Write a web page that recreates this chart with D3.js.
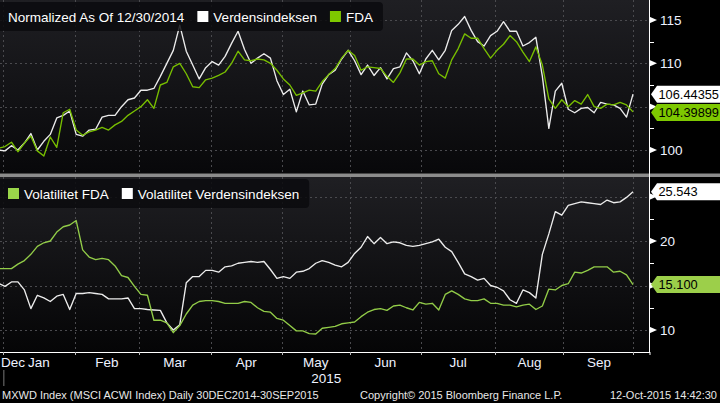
<!DOCTYPE html>
<html><head><meta charset="utf-8">
<script src="https://cdn.jsdelivr.net/npm/d3@7"></script>
<style>
html,body{margin:0;padding:0;background:#000;}
svg{display:block;font-family:"Liberation Sans",Arial,sans-serif;}
</style></head><body>
<svg id="c" width="720" height="403"></svg>
<script>
// ---------- data ----------
const startDate = "2014-12-30", endDate = "2015-09-30"; // daily (weekdays); samples every 2nd weekday
const monthLabels = ["Dec","Jan","Feb","Mar","Apr","May","Jun","Jul","Aug","Sep"];
const yearLabel = "2015";
const priceTicks = [100,105,110,115];
const priceMinor = [102.5,107.5,112.5];
const volTicks = [10,15,20,25];
const volMinor = [12.5,17.5,22.5];
const topLegend = ["Normalized As Of 12/30/2014","Verdensindeksen","FDA"];
const botLegend = ["Volatilitet FDA","Volatilitet Verdensindeksen"];
const lastLabels = ["106.44355","104.39899","25.543","15.100"];
const footerLeft = "MXWD Index (MSCI ACWI Index)  Daily 30DEC2014-30SEP2015";
const footerMid = "Copyright\u00A9 2015 Bloomberg Finance L.P.";
const footerRight = "12-Oct-2015 14:42:30";

const verdens = [
100.0,99.9,100.5,100.0,100.8,101.9,100.0,101.0,101.8,103.7,
104.0,104.5,101.8,101.6,102.3,102.4,103.8,104.0,104.0,105.0,
105.8,106.0,106.9,106.9,107.1,108.5,110.0,111.5,114.4,111.4,
109.8,108.2,109.5,110.2,109.8,110.8,112.3,113.7,111.6,110.0,
110.6,111.1,110.6,108.0,106.4,107.0,104.4,106.8,105.2,105.3,
107.6,108.7,109.2,110.5,111.5,110.3,108.7,109.8,108.6,109.5,
108.2,109.4,109.6,111.2,110.3,108.8,110.5,111.5,110.4,111.5,
113.8,114.5,115.4,113.8,112.5,112.0,113.2,113.7,114.8,113.7,
113.7,112.0,112.4,113.0,108.5,102.5,106.8,107.7,104.7,104.3,
104.8,104.9,104.3,105.5,105.3,105.2,104.8,103.8,106.44355];
const fda = [
100.2,100.4,100.9,99.8,100.8,101.6,99.9,99.3,101.5,100.3,
104.3,104.7,102.3,101.7,102.1,102.3,102.6,102.3,102.9,103.3,
104.0,104.5,105.0,105.8,104.8,107.5,107.8,109.6,110.0,108.8,
107.3,107.2,108.1,108.3,108.6,109.0,110.0,111.4,110.4,110.3,
110.5,110.4,110.0,109.2,108.2,107.5,106.3,106.6,106.9,106.8,
107.9,108.7,109.4,110.6,111.5,110.9,109.2,109.6,109.5,109.4,
108.5,107.8,108.9,110.5,110.5,109.8,110.2,110.3,108.8,108.3,
110.4,111.7,113.4,112.9,112.9,111.7,110.6,111.5,112.2,113.2,
112.5,111.3,110.2,111.9,109.8,105.9,104.8,105.8,105.0,105.7,
105.3,106.4,105.0,104.8,105.3,105.2,105.5,105.2,104.39899];
const volFda = [
16.9,16.9,16.9,17.4,17.8,18.5,19.4,19.8,20.0,21.0,
21.6,21.8,22.3,19.0,18.2,17.9,18.05,17.9,17.2,16.1,
15.9,14.9,14.0,13.9,11.1,11.1,10.8,9.7,10.5,11.8,
12.8,13.2,13.3,13.3,13.2,13.0,13.0,13.0,13.2,13.1,
12.5,12.1,12.0,11.3,11.1,10.5,9.9,9.9,9.6,9.55,
10.2,10.3,10.4,10.7,10.8,10.9,11.5,12.0,12.3,12.4,
12.2,12.7,12.8,12.5,12.25,13.1,12.9,13.0,12.25,14.0,
14.4,14.0,13.5,13.3,13.3,13.5,13.0,13.0,12.8,12.8,
12.6,12.8,12.9,12.3,12.7,14.6,14.5,15.0,15.2,16.5,
16.4,16.7,17.1,17.1,17.1,16.5,16.6,16.2,15.1];
const volVerdens = [
15.25,14.9,15.4,15.4,14.5,12.4,13.9,13.6,13.2,13.8,
14.0,12.3,14.1,14.1,14.2,14.1,14.0,13.5,13.5,13.5,
13.6,12.4,12.4,12.3,12.25,12.2,10.8,10.0,10.6,15.3,
16.0,16.0,16.7,16.7,16.5,17.1,17.2,17.5,17.6,17.7,
17.6,17.7,16.8,15.8,16.0,15.8,16.5,16.6,16.9,17.5,
17.8,17.6,17.3,17.1,17.6,18.6,19.3,20.5,19.7,20.4,
19.7,19.9,19.8,19.5,19.4,19.5,19.7,19.9,20.2,19.3,
18.8,17.6,16.3,16.0,15.6,15.8,15.0,14.8,14.4,13.4,
13.0,14.5,14.2,13.6,18.5,20.8,23.3,22.9,24.0,24.2,
24.4,24.3,24.2,24.1,24.6,24.3,24.4,24.9,25.543];

// ---------- colours ----------
const WHITE = "#ececec", GREEN_TOP = "#78be00", GREEN_BOT = "#92cc48";

// ---------- scales ----------
const parse = d3.utcParse("%Y-%m-%d");
const days = d3.utcDays(parse(startDate), d3.utcDay.offset(parse(endDate), 1))
  .filter(d => d.getUTCDay() % 6 !== 0);
const sampleIdx = days.map((d, i) => i).filter(i => i % 2 === 0 || i === days.length - 1);

const x = d3.scaleLinear().domain([0, days.length - 1]).range([-1.5, 633]);
const yTop = d3.scaleLinear().domain([100, 115]).range([150, 20]);
const yBot = d3.scaleLinear().domain([10, 20]).range([330, 241]);

const svg = d3.select("#c");
const defs = svg.append("defs");
function grad(id, c1, c2) {
  const g = defs.append("linearGradient").attr("id", id).attr("x1", 0).attr("y1", 0).attr("x2", 0).attr("y2", 1);
  g.append("stop").attr("offset", "0%").attr("stop-color", c1);
  g.append("stop").attr("offset", "100%").attr("stop-color", c2);
}
grad("gTop", "#1f1f23", "#08080a");
grad("gBot", "#1f1f23", "#050506");
defs.append("clipPath").attr("id", "clipTop").append("rect").attr("x", 0).attr("y", 0).attr("width", 649).attr("height", 173);
defs.append("clipPath").attr("id", "clipBot").append("rect").attr("x", 0).attr("y", 177).attr("width", 649).attr("height", 175);

svg.append("rect").attr("width", 720).attr("height", 403).attr("fill", "#000");
svg.append("rect").attr("x", 0).attr("y", 0).attr("width", 649).attr("height", 173).attr("fill", "url(#gTop)");
svg.append("rect").attr("x", 0).attr("y", 177).attr("width", 649).attr("height", 175).attr("fill", "url(#gBot)");
svg.append("rect").attr("x", 0).attr("y", 173.5).attr("width", 720).attr("height", 3.5).attr("fill", "#8c8c8c");

// month boundaries
const bounds = [];
for (let i = 1; i < days.length; i++) if (days[i].getUTCMonth() !== days[i - 1].getUTCMonth()) bounds.push(i - 0.5);
const gridX = bounds.map(b => x(b)).concat([x(days.length - 1)]);

const grid = svg.append("g").attr("stroke", "#4a4a4e").attr("stroke-dasharray", "2,3").attr("stroke-width", 1);
gridX.forEach(gx => {
  grid.append("line").attr("x1", Math.round(gx) + .5).attr("x2", Math.round(gx) + .5).attr("y1", 0).attr("y2", 173);
  grid.append("line").attr("x1", Math.round(gx) + .5).attr("x2", Math.round(gx) + .5).attr("y1", 177).attr("y2", 352);
});
priceTicks.forEach(v => grid.append("line").attr("x1", 0).attr("x2", 649).attr("y1", Math.round(yTop(v)) + .5).attr("y2", Math.round(yTop(v)) + .5));
volTicks.forEach(v => grid.append("line").attr("x1", 0).attr("x2", 649).attr("y1", Math.round(yBot(v)) + .5).attr("y2", Math.round(yBot(v)) + .5));

// lines
function drawLine(vals, ys, color, clip) {
  const pts = sampleIdx.map((di, k) => [x(di), ys(vals[k])]);
  svg.append("path").attr("clip-path", `url(#${clip})`).attr("d", d3.line()(pts))
    .attr("fill", "none").attr("stroke", color).attr("stroke-width", 1.35).attr("stroke-linejoin", "round");
}
drawLine(verdens, yTop, WHITE, "clipTop");
drawLine(fda, yTop, GREEN_TOP, "clipTop");
drawLine(volVerdens, yBot, WHITE, "clipBot");
drawLine(volFda, yBot, GREEN_BOT, "clipBot");

// legends
function legend(y0, items) {
  const g = svg.append("g");
  const box = g.append("rect").attr("x", -5).attr("y", y0).attr("height", 29).attr("rx", 4).attr("fill", "#0b0b0e").attr("opacity", 0.85);
  let cx = 8;
  items.forEach(it => {
    if (it.color) {
      g.append("rect").attr("x", cx).attr("y", y0 + 9).attr("width", 11).attr("height", 11).attr("fill", it.color);
      cx += 16;
    }
    const t = g.append("text").attr("x", cx).attr("y", y0 + 19.5).attr("fill", "#fff").attr("font-size", 13.5).text(it.text);
    cx += t.node().getComputedTextLength() + 13;
  });
  box.attr("width", cx + 2);
}
legend(2, [{ text: topLegend[0] }, { text: topLegend[1], color: "#ffffff" }, { text: topLegend[2], color: "#7ec800" }]);
legend(179, [{ text: botLegend[0], color: "#9ad64a" }, { text: botLegend[1], color: "#ffffff" }]);

// last-value labels positions
const lastTop = [yTop(verdens[verdens.length - 1]), yTop(fda[fda.length - 1]) + 0.5];
const lastBot = [yBot(volVerdens[volVerdens.length - 1]), yBot(volFda[volFda.length - 1])];

// right axis
const ax = svg.append("g");
ax.append("line").attr("x1", 649.5).attr("x2", 649.5).attr("y1", 0).attr("y2", 352).attr("stroke", "#fff").attr("stroke-width", 1);
function rightAxis(ys, ticks, minor, avoid) {
  ticks.forEach(v => {
    const yy = ys(v);
    ax.append("path").attr("d", `M649,${yy - 3.5}L657,${yy}L649,${yy + 3.5}Z`).attr("fill", "#fff");
    if (avoid.every(a => Math.abs(a - yy) > 12))
      ax.append("text").attr("x", 660).attr("y", yy).attr("dy", "0.36em").attr("fill", "#eef2ff").attr("font-size", 13.5).text(v);
  });
  minor.forEach(v => ax.append("line").attr("x1", 649).attr("x2", 654).attr("y1", Math.round(ys(v)) + .5).attr("y2", Math.round(ys(v)) + .5).attr("stroke", "#fff"));
}
rightAxis(yTop, priceTicks, priceMinor, lastTop);
rightAxis(yBot, volTicks, volMinor, lastBot);

function lastLabel(yy, val, fill, txtColor) {
  const h = 17;
  ax.append("path").attr("d", `M651,${yy}L657,${yy - h / 2}L720,${yy - h / 2}L720,${yy + h / 2}L657,${yy + h / 2}Z`).attr("fill", fill);
  ax.append("text").attr("x", 658.5).attr("y", yy).attr("dy", "0.36em").attr("fill", txtColor).attr("font-size", 12.8).text(val);
}
lastLabel(lastTop[0], lastLabels[0], "#ffffff", "#000");
lastLabel(lastTop[1], lastLabels[1], "#7ec800", "#000");
lastLabel(lastBot[0], lastLabels[2], "#ffffff", "#000");
lastLabel(lastBot[1], lastLabels[3], "#9ccf4a", "#000");

// x axis
ax.append("line").attr("x1", 0).attr("x2", 650).attr("y1", 352.5).attr("y2", 352.5).attr("stroke", "#fff");
ax.append("line").attr("x1", 650).attr("x2", 650).attr("y1", 352).attr("y2", 355).attr("stroke", "#fff");
bounds.concat([days.length - 1]).forEach(b => {
  const bx = Math.round(x(b)) + .5;
  ax.append("line").attr("x1", bx).attr("x2", bx).attr("y1", 352).attr("y2", 355).attr("stroke", "#bbb");
});
// month labels centred in month span
const edges = [-0.5].concat(bounds).concat([days.length - 0.5]);
monthLabels.forEach((m, k) => {
  const c = (x(edges[k]) + x(edges[k + 1])) / 2;
  const t = ax.append("text").attr("y", 366.5).attr("fill", "#eef2ff").attr("font-size", 13.5).text(m);
  if (k === 0) t.attr("x", 1).attr("text-anchor", "start");
  else t.attr("x", c).attr("text-anchor", "middle");
});
ax.append("line").attr("x1", x(bounds[0]) + .5).attr("x2", x(bounds[0]) + .5).attr("y1", 370).attr("y2", 386).attr("stroke", "#777");
ax.append("text").attr("x", (x(bounds[0]) + 649) / 2).attr("y", 382.5).attr("text-anchor", "middle").attr("fill", "#eef2ff").attr("font-size", 13.5).text(yearLabel);

// footer
const ft = svg.append("g").attr("fill", "#e8e8e8").attr("font-size", 11);
ft.append("text").attr("x", 2).attr("y", 399).text(footerLeft);
ft.append("text").attr("x", 360).attr("y", 399).text(footerMid);
ft.append("text").attr("x", 717).attr("y", 399).attr("text-anchor", "end").text(footerRight);
</script>
</body></html>
